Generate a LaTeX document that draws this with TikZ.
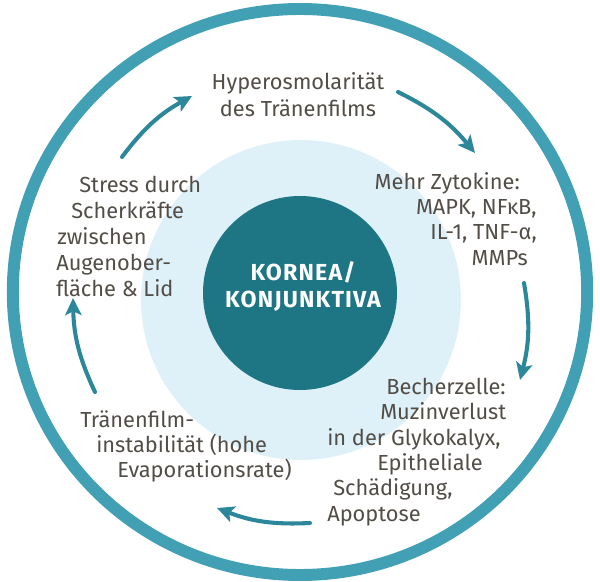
\documentclass[tikz,border=0pt]{standalone}
\usepackage{fontspec}
\setmainfont{Fira Sans}
\usetikzlibrary{arrows.meta}
\definecolor{ringblau}{RGB}{66,160,180}
\definecolor{pfeilblau}{RGB}{45,135,155}
\definecolor{kernblau}{RGB}{30,118,132}
\definecolor{hellblau}{RGB}{222,240,248}
\definecolor{schrift}{RGB}{82,77,70}
\tikzset{
	txt/.style={inner sep=0pt, text=schrift, font=\fontsize{15.5}{18}\selectfont},
	pfeil/.style={line width=2.9pt, draw=pfeilblau, line cap=round, -{Stealth[length=4.3mm,width=4.1mm,inset=1mm]}}
}
\begin{document}
\begin{tikzpicture}
\useasboundingbox (0,0) rectangle (15,-14.55);
% Kreise
\fill[hellblau] (7.525,-7.5) circle (4cm);
\draw[ringblau, line width=8.5pt] (7.5,-7.3) ellipse (7.18cm and 7.075cm);
\fill[kernblau] (7.5,-7.325) circle (2.425cm);
\node[text=white, font=\fontsize{16.5}{19.2}\selectfont\bfseries\addfontfeatures{LetterSpace=5}, align=center, inner sep=0pt] (korn) at (7.575,-7.15) {KORNEA/\\KONJUNKTIVA};
% Texte
\node[txt, align=center, anchor=north, font=\fontsize{15.5}{19.3}\selectfont] (hyp) at (7.45,-1.8) {Hyperosmolarität\\des Tränenfilms};
\node[txt, align=right, anchor=north east] (zyt) at (13.425,-4.3) {Mehr Zytokine:\hspace*{0.425cm}\\MAPK, NFκB,\hspace*{0.25cm}\\IL-1, TNF-α,\\MMPs\hspace*{0.225cm}};
\node[txt, align=left, anchor=north west] (bech) at (8.175,-9.45) {\hspace*{1.475cm}Becherzelle:\\\hspace*{1.325cm}Muzinverlust\\in der Glykokalyx,\\\hspace*{1.25cm}Epitheliale\\\hspace*{0.15cm}Schädigung,\\Apoptose};
\node[txt, align=left, anchor=north west] (tran) at (2.0,-10.25) {Tränenfilm-\\\hspace*{0.4cm}instabilität (hohe\\\hspace*{0.925cm}Evaporationsrate)};
\node[txt, align=left, anchor=north west, font=\fontsize{15.5}{18.4}\selectfont] (stress) at (1.4,-4.4) {\hspace*{0.575cm}Stress durch\\\hspace*{0.375cm}Scherkräfte\\\hspace*{0.025cm}zwischen\\Augenober-\\fläche \& Lid};
% Pfeile
\coordinate (a1) at (3.05,-3.925); \coordinate (b1) at (4.8,-2.4);
\coordinate (a2) at (9.95,-2.3); \coordinate (b2) at (11.875,-3.825);
\coordinate (a3) at (13.1,-7.075); \coordinate (b3) at (13.0,-9.5);
\coordinate (a4) at (7.75,-13.075); \coordinate (b4) at (5.425,-12.7);
\coordinate (a5) at (2.375,-9.8); \coordinate (b5) at (1.825,-7.45);
\foreach \i in {1,...,5}{\draw[pfeil] (a\i) to[bend left=12] (b\i);}
\end{tikzpicture}
\end{document}
